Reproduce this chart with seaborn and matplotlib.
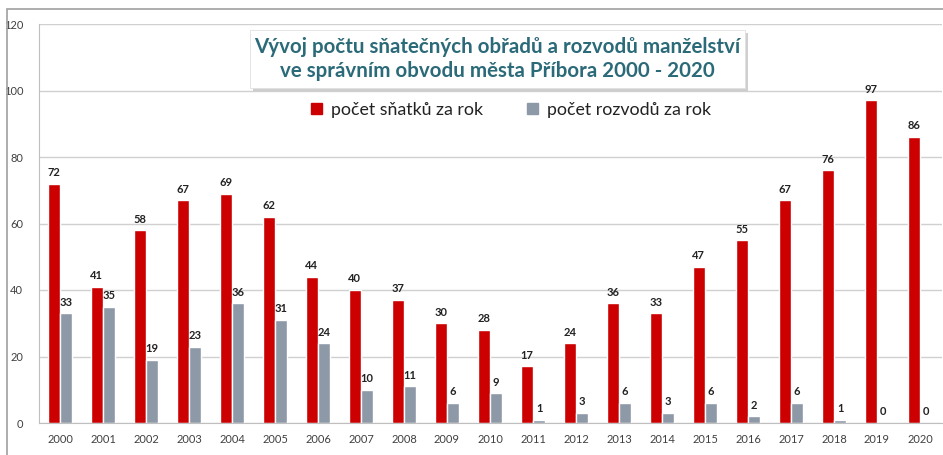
import matplotlib
matplotlib.use("Agg")
import matplotlib.pyplot as plt
from matplotlib.patches import Rectangle
import seaborn as sns
import pandas as pd

years = [str(y) for y in range(2000, 2021)]
snatky = [72, 41, 58, 67, 69, 62, 44, 40, 37, 30, 28, 17, 24, 36, 33, 47, 55, 67, 76, 97, 86]
rozvody = [33, 35, 19, 23, 36, 31, 24, 10, 11, 6, 9, 1, 3, 6, 3, 6, 2, 6, 1, 0, 0]
series_names = ["počet sňatků za rok", "počet rozvodů za rok"]
title_text = "Vývoj počtu sňatečných obřadů a rozvodů manželství\nve správním obvodu města Příbora 2000 - 2020"
yticks = [0, 20, 40, 60, 80, 100, 120]

df = pd.DataFrame({
    "rok": years * 2,
    "pocet": snatky + rozvody,
    "serie": [series_names[0]] * len(years) + [series_names[1]] * len(years),
})

sns.set_style("white")
plt.rcParams["font.family"] = ["Lato", "DejaVu Sans"]

W, H = 943, 455
fig = plt.figure(figsize=(W / 100, H / 100), dpi=100)
ax = fig.add_axes([38.5 / W, 1 - 423 / H, (941.5 - 38.5) / W, (423 - 24) / H])

red = "#CC0000"
grey = "#8E99A8"
sns.barplot(data=df, x="rok", y="pocet", hue="serie", palette=[red, grey],
            width=0.58, ax=ax, legend=False, saturation=1)

for cont in ax.containers:
    ax.bar_label(cont, padding=4, fontsize=8, fontweight="bold", color="#222222",
                 fmt="%d")

ax.set_ylim(0, 120)
ax.set_xlim(-0.5, 20.5)
ax.set_yticks(yticks)
ax.set_yticklabels([str(t) for t in yticks])
ax.yaxis.grid(True, color="#D0D0D0", linewidth=1)
ax.set_axisbelow(True)
ax.set_xlabel("")
ax.set_ylabel("")
for s in ["top", "right"]:
    ax.spines[s].set_visible(False)
ax.spines["left"].set_color("#BFBFBF")
ax.spines["bottom"].set_color("#BFBFBF")
ax.tick_params(axis="y", labelsize=8, colors="#404040", length=4, color="#BFBFBF", pad=7)
ax.tick_params(axis="x", labelsize=8, colors="#404040", length=0, pad=8)
ax.set_xticks([i + 0.5 for i in range(-1, 21)], minor=True)
ax.tick_params(axis="x", which="minor", length=4, color="#BFBFBF", direction="out")

# outer border
fig.patches.append(Rectangle((7 / W, -0.2), 1.5, 1.2 - 9 / H, transform=fig.transFigure,
                             fill=False, edgecolor="#A0A0A0", linewidth=1.2, zorder=0))

# title box with shadow
bx0, by0, bx1, by1 = 250 / W, 1 - 88 / H, 745 / W, 1 - 30 / H
fig.patches.append(Rectangle((bx0 + 3 / W, by0 - 3 / H), bx1 - bx0, by1 - by0,
                             transform=fig.transFigure, facecolor="#BBBBBB",
                             edgecolor="none", zorder=3, alpha=0.7))
fig.patches.append(Rectangle((bx0, by0), bx1 - bx0, by1 - by0, transform=fig.transFigure,
                             facecolor="white", edgecolor="#E0E0E0", linewidth=0.6, zorder=4))
fig.text((bx0 + bx1) / 2, (by0 + by1) / 2, title_text, ha="center", va="center",
         fontsize=14.8, fontweight="bold", color="#2B6A78", linespacing=1.25, zorder=5)

# legend
handles = [Rectangle((0, 0), 1, 1, color=red), Rectangle((0, 0), 1, 1, color=grey)]
fig.legend(handles, series_names, loc="center", bbox_to_anchor=(511 / W, 1 - 110 / H),
           ncol=2, frameon=False, fontsize=12.8, handlelength=0.6, handleheight=0.6,
           handletextpad=0.5, columnspacing=2.5, labelcolor="#222222")

fig.savefig("out.png", dpi=100)
